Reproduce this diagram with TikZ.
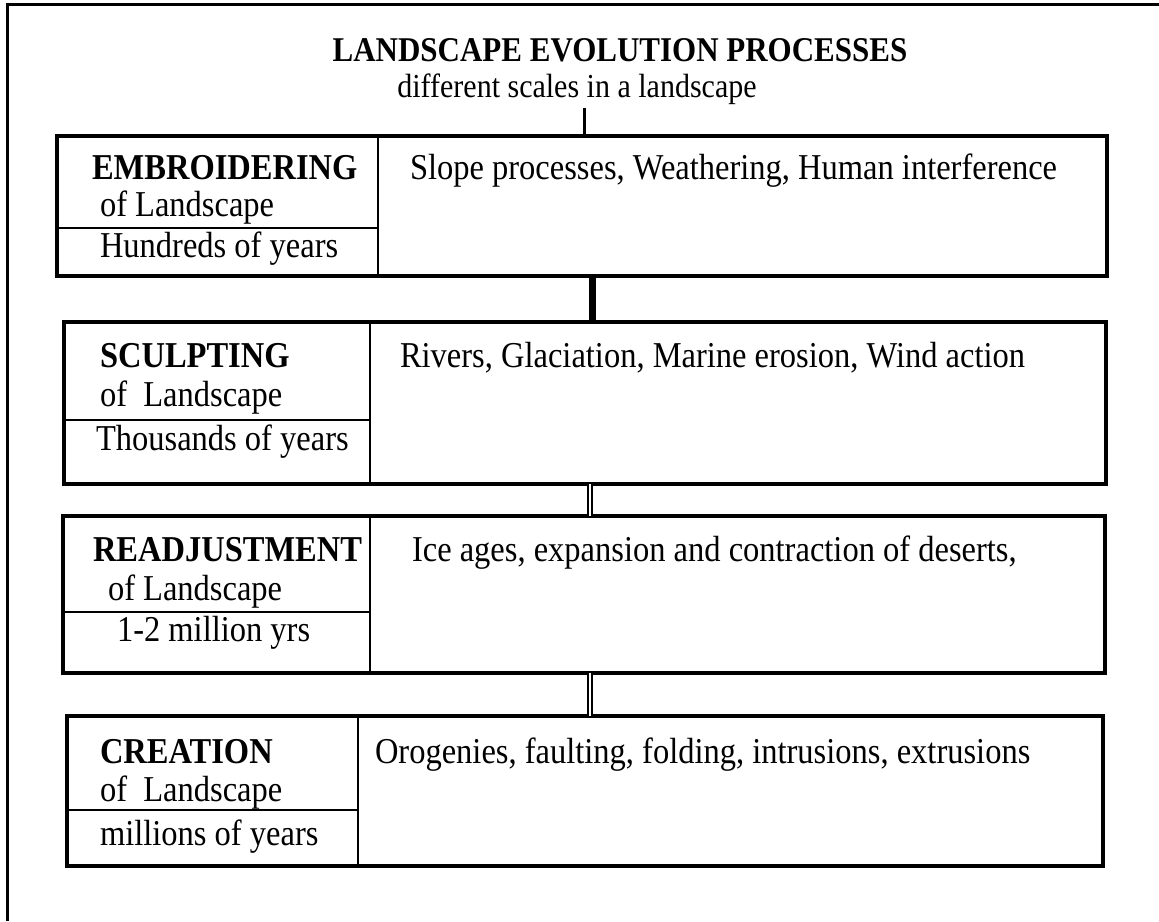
\documentclass[tikz,border=0pt]{standalone}
\usepackage{fontspec}
\setmainfont{Liberation Serif}
\usetikzlibrary{calc}
% slightly tall type, as in the printed chart
\newcommand{\tallface}[1]{\scalebox{1}[1.12]{#1}}
\begin{document}
\begin{tikzpicture}[x=1pt,y=-1pt,
  every node/.style={inner sep=0pt,outer sep=0pt},
  txt/.style={anchor=base west,font=\fontsize{32.5}{38}\selectfont},
  hd/.style={txt,font=\fontsize{32.5}{38}\selectfont\bfseries},
  stage/.style={draw,line width=4pt,rectangle,anchor=north west},
  divider/.style={line width=2.4pt},
  link/.style={line width=7pt},
  dlink/.style={double,line width=2pt,double distance=2.4pt}]
\useasboundingbox (0,0) rectangle (1159,921);
\fill[white] (0,0) rectangle (1159,921);
% page frame (top and left edges only)
\draw[line width=3pt] (7,921) -- (7,4) -- (1159,4);

% heading
\node[font=\fontsize{31}{36}\selectfont\bfseries,anchor=base] (title) at (620,61) {\tallface{LANDSCAPE EVOLUTION PROCESSES}};
\node[font=\fontsize{30}{36}\selectfont,anchor=base] (sub) at (577,97) {\tallface{different scales in a landscape}};

% the four stages
\node[stage,minimum width=1050pt,minimum height=140pt] (b1) at (57,136) {};
\node[stage,minimum width=1042pt,minimum height=162pt] (b2) at (64,322) {};
\node[stage,minimum width=1042pt,minimum height=157pt] (b3) at (63,516) {};
\node[stage,minimum width=1036pt,minimum height=150pt] (b4) at (67,716) {};

% inner rules of each stage
\coordinate (v1) at (378,0);  \coordinate (h1) at (0,228);
\coordinate (v2) at (370,0);  \coordinate (h2) at (0,420);
\coordinate (v3) at (370,0);  \coordinate (h3) at (0,612);
\coordinate (v4) at (358,0);  \coordinate (h4) at (0,810);
\foreach \i in {1,2,3,4}{
  \draw[divider] (b\i.north -| v\i) -- (b\i.south -| v\i);
  \draw[divider] (b\i.west |- h\i) -- (v\i |- h\i);
}

% labels
\node[hd]  (e1) at (92,179)  {\tallface{EMBROIDERING}};
\node[txt] (e2) at (100,216) {\tallface{of Landscape}};
\node[txt] (e3) at (100,257) {\tallface{Hundreds of years}};
\node[txt] (e4) at (410,179) {\tallface{Slope processes, Weathering, Human interference}};

\node[hd]  (s1) at (100,367) {\tallface{SCULPTING}};
\node[txt] (s2) at (100,406) {\tallface{of\ \ Landscape}};
\node[txt] (s3) at (96,450)  {\tallface{Thousands of years}};
\node[txt] (s4) at (400,367) {\tallface{Rivers, Glaciation, Marine erosion, Wind action}};

\node[hd]  (r1) at (93,561)  {\tallface{READJUSTMENT}};
\node[txt] (r2) at (108,600) {\tallface{of Landscape}};
\node[txt] (r3) at (117,641) {\tallface{1-2 million yrs}};
\node[txt] (r4) at (412,561) {\tallface{Ice ages, expansion and contraction of deserts,}};

\node[hd]  (c1) at (100,763) {\tallface{CREATION}};
\node[txt] (c2) at (100,801) {\tallface{of\ \ Landscape}};
\node[txt] (c3) at (100,845) {\tallface{millions of years}};
\node[txt] (c4) at (375,763) {\tallface{Orogenies, faulting, folding, intrusions, extrusions}};

% connectors
\coordinate (x0) at (584,0);
\coordinate (x1) at (592,0);
\coordinate (x2) at (590,0);
\coordinate (x3) at (590,0);
\draw[line width=3pt] ($(sub.south -| x0)+(0,4)$) -- (b1.north -| x0);
\draw[link]  (b1.south -| x1) -- (b2.north -| x1);
\draw[dlink] (b2.south -| x2) -- (b3.north -| x2);
\draw[dlink] (b3.south -| x3) -- (b4.north -| x3);
\end{tikzpicture}
\end{document}
